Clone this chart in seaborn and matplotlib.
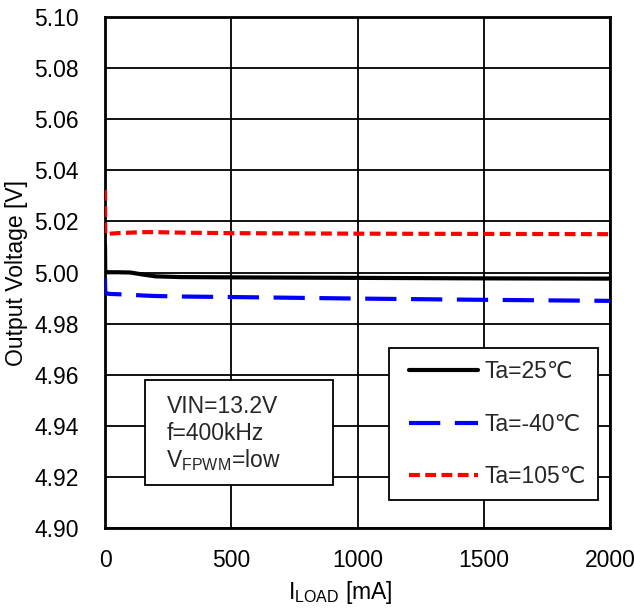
import matplotlib
matplotlib.use("Agg")
import matplotlib.pyplot as plt
from matplotlib.legend_handler import HandlerLine2D
from matplotlib.patches import Rectangle
import seaborn as sns
import pandas as pd

# Data
load_ma = [0, 1, 5, 20, 50, 100, 150, 200, 300, 500, 1000, 1500, 2000]
v_25 = [5.011, 5.0002, 5.0001, 5.0001, 5.0001, 5.0000, 4.9992, 4.9985, 4.9982, 4.9981, 4.9979, 4.9977, 4.9976]
v_m40 = [4.9978, 4.9920, 4.9918, 4.9916, 4.9915, 4.9913, 4.9910, 4.9908, 4.9906, 4.9904, 4.9898, 4.9893, 4.9889]
v_105 = [5.0323, 5.0150, 5.0150, 5.0152, 5.0154, 5.0156, 5.0158, 5.0158, 5.0156, 5.0154, 5.0152, 5.0151, 5.0150]
labels = ["Ta=25\u2103", "Ta=-40\u2103", "Ta=105\u2103"]
note_lines = ["VIN=13.2V", "f=400kHz", "V$_\\mathregular{FPWM}$=low"]
yticks = [4.90, 4.92, 4.94, 4.96, 4.98, 5.00, 5.02, 5.04, 5.06, 5.08, 5.10]
xticks = [0, 500, 1000, 1500, 2000]

FS = 16.5

sns.set_theme(style="white")
plt.rcParams['font.family'] = ['Liberation Sans', 'DejaVu Sans']
plt.rcParams['mathtext.fontset'] = 'custom'
plt.rcParams['mathtext.rm'] = 'Liberation Sans'

fig = plt.figure(figsize=(6.34, 6.09), dpi=100)
ax = fig.add_axes([105/634, 81/609, 505/634, 511/609])

df = pd.DataFrame({"x": load_ma, "a": v_25, "b": v_m40, "c": v_105})
sns.lineplot(data=df, x="x", y="a", ax=ax, color="black", lw=3, label=labels[0], zorder=5)
sns.lineplot(data=df, x="x", y="b", ax=ax, color="#0000ff", lw=3, label=labels[1], zorder=4)
sns.lineplot(data=df, x="x", y="c", ax=ax, color="#ff0000", lw=3, label=labels[2], zorder=4)
lines = ax.get_lines()
lines[1].set_dashes([7.5, 3.5])
lines[2].set_dashes([2.6, 1.3])

ax.set_xlim(0, 2000)
ax.set_ylim(4.90, 5.10)
ax.set_xticks(xticks)
ax.set_yticks(yticks)
ax.set_yticklabels([f"{v:.2f}" for v in yticks])
ax.grid(True, color="black", lw=1.3)
ax.tick_params(length=0, labelsize=FS, colors="black")
ax.tick_params(axis="x", pad=15)
ax.tick_params(axis="y", pad=19)
for s in ax.spines.values():
    s.set_color("black")
    s.set_linewidth(2)
ax.set_xlabel(r"I$_\mathregular{LOAD}$ [mA]", fontsize=FS, color="black", labelpad=5)
ax.xaxis.label.set_x(0.465)
ax.set_ylabel("Output Voltage [V]", fontsize=FS, color="black", labelpad=4)

hmap = {ln: HandlerLine2D(xpad=0.39) for ln in lines}
leg = ax.legend(handles=lines, labels=labels, handler_map=hmap,
                loc="lower right", bbox_to_anchor=(0.976, 0.055), fontsize=FS,
                frameon=True, fancybox=False, edgecolor="black", framealpha=1,
                handlelength=3.4, labelspacing=1.3, borderpad=0.5, handletextpad=0.3,
                borderaxespad=0)
leg.get_frame().set_linewidth(1.3)

# annotation box
ax.add_patch(Rectangle((40/505, 43/511), 188/505, 105/511, transform=ax.transAxes,
                       facecolor="white", edgecolor="black", lw=1.3, zorder=10))
for yb, txt in zip([413, 440, 467], note_lines):
    ax.text(61.5/505, (528 - yb)/511, txt, transform=ax.transAxes, fontsize=FS,
            va="baseline", ha="left", zorder=11)

fig.savefig("out.png", dpi=100)
